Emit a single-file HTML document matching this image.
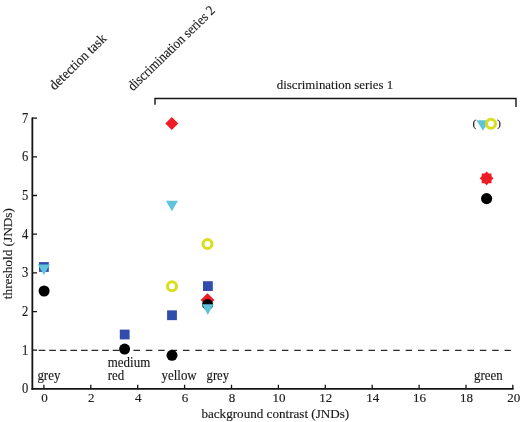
<!DOCTYPE html>
<html><head><meta charset="utf-8">
<style>
html,body{margin:0;padding:0;background:#fff;}
body{width:520px;height:422px;overflow:hidden;}
svg{display:block;will-change:transform;}
text{font-family:"Liberation Serif",serif;fill:#1a1a1a;stroke:#1a1a1a;stroke-width:0.15px;}
</style></head>
<body>
<svg width="520" height="422" viewBox="0 0 520 422">

<g stroke="#141414" fill="none"><path d="M32.35 117.6 V389.75" stroke-width="1.8"/><path d="M31.45 388.9 H513.6" stroke-width="1.7"/><path d="M32 350.22 H37 M32 311.54 H37 M32 272.86 H37 M32 234.18 H37 M32 195.50 H37 M32 156.82 H37 M32 118.14 H37 M43.90 389 V384.8 M90.80 389 V384.8 M137.70 389 V384.8 M184.60 389 V384.8 M231.50 389 V384.8 M278.40 389 V384.8 M325.30 389 V384.8 M372.20 389 V384.8 M419.10 389 V384.8 M466.00 389 V384.8 M512.8 389 V384.8" stroke-width="1.3"/></g>
<g stroke="#2a2a2a" stroke-width="1.1" fill="none"><path d="M38.65 350.4 H119.4" stroke-dasharray="6.7 3.88"/><path d="M121.1 350.4 H511" stroke-dasharray="6.5 5.87"/></g>
<path d="M155 104.7 V98.5 H516 V107" stroke="#141414" stroke-width="1.4" fill="none"/>
<text transform="translate(28.30,393.30) scale(0.9,1)" font-size="14" text-anchor="end">0</text>
<text transform="translate(28.30,354.62) scale(0.9,1)" font-size="14" text-anchor="end">1</text>
<text transform="translate(28.30,315.94) scale(0.9,1)" font-size="14" text-anchor="end">2</text>
<text transform="translate(28.30,277.26) scale(0.9,1)" font-size="14" text-anchor="end">3</text>
<text transform="translate(28.30,238.58) scale(0.9,1)" font-size="14" text-anchor="end">4</text>
<text transform="translate(28.30,199.90) scale(0.9,1)" font-size="14" text-anchor="end">5</text>
<text transform="translate(28.30,161.22) scale(0.9,1)" font-size="14" text-anchor="end">6</text>
<text transform="translate(28.30,122.54) scale(0.9,1)" font-size="14" text-anchor="end">7</text>
<text transform="translate(44.40,401.50) scale(1.02,1)" font-size="12.8" text-anchor="middle">0</text>
<text transform="translate(91.30,401.50) scale(1.02,1)" font-size="12.8" text-anchor="middle">2</text>
<text transform="translate(138.20,401.50) scale(1.02,1)" font-size="12.8" text-anchor="middle">4</text>
<text transform="translate(185.10,401.50) scale(1.02,1)" font-size="12.8" text-anchor="middle">6</text>
<text transform="translate(232.00,401.50) scale(1.02,1)" font-size="12.8" text-anchor="middle">8</text>
<text transform="translate(278.90,401.50) scale(1.02,1)" font-size="12.8" text-anchor="middle">10</text>
<text transform="translate(325.80,401.50) scale(1.02,1)" font-size="12.8" text-anchor="middle">12</text>
<text transform="translate(372.70,401.50) scale(1.02,1)" font-size="12.8" text-anchor="middle">14</text>
<text transform="translate(419.60,401.50) scale(1.02,1)" font-size="12.8" text-anchor="middle">16</text>
<text transform="translate(466.50,401.50) scale(1.02,1)" font-size="12.8" text-anchor="middle">18</text>
<text transform="translate(513.80,401.50) scale(1.02,1)" font-size="12.8" text-anchor="middle">20</text>
<text transform="translate(275.30,418.20) scale(1.05,1)" font-size="12.5" text-anchor="middle">background contrast (JNDs)</text>
<text transform="translate(335.00,89.10) scale(0.99,1)" font-size="13" text-anchor="middle">discrimination series 1</text>
<text transform="translate(11.50,253.60) rotate(-90) scale(0.985,1)" font-size="13.5" text-anchor="middle">threshold (JNDs)</text>
<text transform="translate(54.60,90.80) rotate(-44.3) scale(0.953,1)" font-size="14">detection task</text>
<text transform="translate(133.00,91.50) rotate(-44) scale(0.91,1)" font-size="14">discrimination series 2</text>
<text transform="translate(37.40,380.00) scale(0.925,1)" font-size="14">grey</text>
<text transform="translate(107.80,366.80) scale(0.925,1)" font-size="14">medium</text>
<text transform="translate(107.80,379.80) scale(0.925,1)" font-size="14">red</text>
<text transform="translate(161.50,379.60) scale(0.925,1)" font-size="14">yellow</text>
<text transform="translate(206.60,379.60) scale(0.9,1)" font-size="14">grey</text>
<text transform="translate(474.00,380.00) scale(0.925,1)" font-size="14">green</text>
<rect x="39.00" y="262.10" width="9.8" height="9.8" fill="#324cab"/>
<path d="M37.85 264.55 H49.85 L43.85 275.05 Z" fill="#5fc3da"/>
<circle cx="44.10" cy="291.00" r="5.5" fill="#000"/>
<rect x="119.80" y="329.60" width="9.8" height="9.8" fill="#324cab"/>
<circle cx="124.60" cy="349.10" r="5.5" fill="#000"/>
<path d="M171.80 117.00 L178.30 123.50 L171.80 130.00 L165.30 123.50 Z" fill="#ed1c24"/>
<path d="M165.90 200.75 H177.90 L171.90 211.25 Z" fill="#5fc3da"/>
<circle cx="172.00" cy="286.25" r="4.5" fill="none" stroke="#d9df1e" stroke-width="3"/>
<rect x="167.10" y="310.35" width="9.8" height="9.8" fill="#324cab"/>
<circle cx="172.00" cy="355.30" r="5.5" fill="#000"/>
<circle cx="207.50" cy="244.10" r="4.5" fill="none" stroke="#d9df1e" stroke-width="3"/>
<rect x="203.00" y="281.20" width="9.8" height="9.8" fill="#324cab"/>
<path d="M207.50 293.20 L214.40 300.10 L207.50 307.00 L200.60 300.10 Z" fill="#ed1c24"/>
<circle cx="207.60" cy="304.40" r="5.5" fill="#000"/>
<path d="M202.05 304.25 H213.55 L207.80 314.95 Z" fill="#5fc3da"/>
<text transform="translate(472.40,126.60) scale(1.05,1)" font-size="11.3">(</text>
<text transform="translate(497.00,126.60) scale(1.05,1)" font-size="11.3">)</text>
<path d="M476.50 120.35 H489.30 L482.90 130.85 Z" fill="#5fc3da"/>
<circle cx="491.00" cy="123.80" r="4.5" fill="none" stroke="#d9df1e" stroke-width="3"/>
<circle cx="486.60" cy="198.60" r="5.6" fill="#000"/>
<polygon points="486.60,171.40 488.63,173.40 491.48,173.42 491.50,176.27 493.50,178.30 491.50,180.33 491.48,183.18 488.63,183.20 486.60,185.20 484.57,183.20 481.72,183.18 481.70,180.33 479.70,178.30 481.70,176.27 481.72,173.42 484.57,173.40" fill="#ed1c24"/>
</svg>
</body></html>
